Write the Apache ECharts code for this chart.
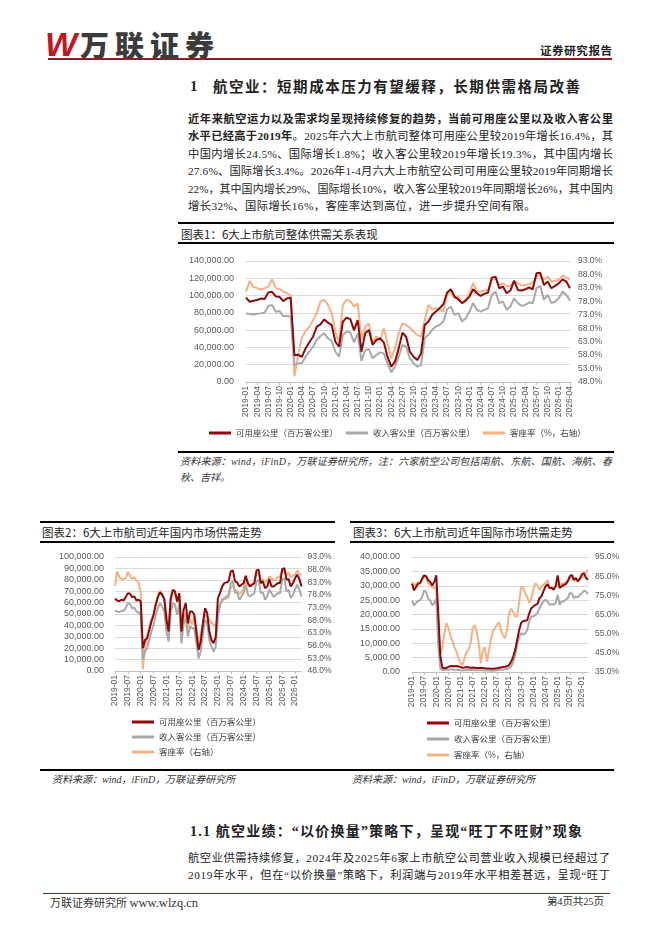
<!DOCTYPE html>
<html>
<head>
<meta charset="utf-8">
<title>航空业供需</title>
<script src="https://cdn.jsdelivr.net/npm/echarts@6/dist/echarts.min.js"></script>
<style>
  body { margin: 0; background: #fff; }
  #page { position: relative; width: 662px; height: 936px; overflow: hidden; background: #fff;
          font-family: "Liberation Serif", "Noto Sans CJK SC", serif; color: #222; }
  .tx { position: absolute; white-space: nowrap; height: 16px; line-height: 16px; }
  .hr { position: absolute; background: #000; }
  .src { font-style: italic; font-size: 10px; color: #333; }
  .cap { font-size: 11.5px; color: #222; font-family: "Noto Sans CJK SC", sans-serif; }
  .chart { position: absolute; }
</style>
</head>
<body>
<div id="page">
  <!-- header -->
  <div class="tx" style="left:45px;top:26px;height:36px;line-height:36px;font-family:'Liberation Sans';font-weight:bold;font-style:italic;font-size:34px;color:#c4161c;letter-spacing:-3px">W</div>
  <div class="tx" style="left:80px;top:26px;height:36px;line-height:36px;font-family:'Noto Sans CJK SC';font-weight:900;font-size:29px;color:#3b3b3b;letter-spacing:6px">万联证券</div>
  <span class="tx fit" data-w="72" style="left:540px;top:42px;font-family:'Noto Sans CJK SC';font-weight:bold;font-size:11.5px">证券研究报告</span>
  <div class="hr" style="left:48px;top:58px;width:564px;height:1.5px;background:#8b1f24"></div>

  <!-- section title -->
  <div class="tx" style="left:190px;top:78px;font-weight:bold;font-size:15px">1</div>
  <span class="tx fit" data-w="367" style="left:213px;top:78px;font-weight:bold;font-size:14.5px;font-family:'Noto Sans CJK SC'">航空业：短期成本压力有望缓释，长期供需格局改善</span>

  <!-- paragraph -->
  <span class="tx fit" data-w="425" style="left:188px;top:111px;font-size:11.3px;font-weight:bold">近年来航空运力以及需求均呈现持续修复的趋势，当前可用座公里以及收入客公里</span>
  <span class="tx fit" data-w="425" style="left:188px;top:128.4px;font-size:11.3px"><b>水平已经高于2019年</b>。2025年六大上市航司整体可用座公里较2019年增长16.4%，其</span>
  <span class="tx fit" data-w="425" style="left:188px;top:145.8px;font-size:11.3px">中国内增长24.5%、国际增长1.8%；收入客公里较2019年增长19.3%，其中国内增长</span>
  <span class="tx fit" data-w="425" style="left:188px;top:163.2px;font-size:11.3px">27.6%、国际增长3.4%。2026年1-4月六大上市航空公司可用座公里较2019年同期增长</span>
  <span class="tx fit" data-w="425" style="left:188px;top:180.6px;font-size:11px">22%，其中国内增长29%、国际增长10%，收入客公里较2019年同期增长26%，其中国内</span>
  <span class="tx" style="left:188px;top:198px;font-size:11.3px;letter-spacing:0.4px">增长32%、国际增长16%，客座率达到高位，进一步提升空间有限。</span>

  <!-- figure 1 frame -->
  <div class="hr" style="left:178px;top:222px;width:436px;height:2px"></div>
  <div class="tx cap" style="left:181px;top:226px">图表1：6大上市航司整体供需关系表现</div>
  <div class="hr" style="left:178px;top:242px;width:436px;height:2px"></div>
  <div id="c1" class="chart" style="left:178px;top:245px;width:436px;height:200px"></div>
  <div class="hr" style="left:178px;top:450.5px;width:436px;height:2.5px"></div>
  <span class="tx fit src" data-w="432" style="left:180px;top:454px">资料来源：wind，iFinD，万联证券研究所，注：六家航空公司包括南航、东航、国航、海航、春</span>
  <div class="tx src" style="left:180px;top:470px">秋、吉祥。</div>

  <!-- figures 2 and 3 frames -->
  <div class="hr" style="left:40px;top:521px;width:295px;height:2px"></div>
  <div class="tx cap" style="left:42px;top:524px">图表2：6大上市航司近年国内市场供需走势</div>
  <div class="hr" style="left:40px;top:541px;width:295px;height:2px"></div>
  <div class="hr" style="left:350px;top:521px;width:264px;height:2px"></div>
  <div class="tx cap" style="left:353px;top:524px">图表3：6大上市航司近年国际市场供需走势</div>
  <div class="hr" style="left:350px;top:541px;width:264px;height:2px"></div>
  <div id="c2" class="chart" style="left:40px;top:545px;width:300px;height:222px"></div>
  <div id="c3" class="chart" style="left:345px;top:545px;width:317px;height:222px"></div>
  <div class="hr" style="left:40px;top:768.5px;width:574px;height:2.5px"></div>
  <div class="tx src" style="left:52px;top:772px">资料来源：wind，iFinD，万联证券研究所</div>
  <div class="tx src" style="left:352px;top:772px">资料来源：wind，iFinD，万联证券研究所</div>

  <!-- section 1.1 -->
  <span class="tx fit" data-w="392" style="left:190px;top:824px;font-weight:bold;font-size:14px">1.1 航空业绩：“以价换量”策略下，呈现“旺丁不旺财”现象</span>
  <span class="tx fit" data-w="422" style="left:188px;top:850px;font-size:11.3px">航空业供需持续修复，2024年及2025年6家上市航空公司营业收入规模已经超过了</span>
  <span class="tx fit" data-w="422" style="left:188px;top:867px;font-size:11.3px">2019年水平，但在“以价换量”策略下，利润端与2019年水平相差甚远，呈现“旺丁</span>

  <!-- footer -->
  <div class="hr" style="left:43px;top:892.5px;width:567px;height:1px;background:#8b1f24"></div>
  <div class="tx" style="left:50px;top:894px;font-size:11px;font-family:'Noto Sans CJK SC';color:#333">万联证券研究所 <span style="font-family:'Liberation Serif';font-size:12.5px">www.wlzq.cn</span></div>
  <span class="tx fit" data-w="57" style="left:547px;top:894px;font-size:10.5px;color:#333">第4页共25页</span>
</div>

<script>
// 月份类目
var years = ['2019', '2020', '2021', '2022', '2023', '2024', '2025', '2026'];
var monthNos = ['01', '02', '03', '04', '05', '06', '07', '08', '09', '10', '11', '12'];
var lastMonth = '2026-04';

var askName = '可用座公里（百万客公里）';
var rpkName = '收入客公里（百万客公里）';
var lfName = '客座率（%，右轴）';
var lfNameDom = '客座率（右轴）';

// 图表1：六大航司整体
var totalAsk = [97700, 92900, 94000, 94800, 96700, 96000, 103700, 104400, 99000, 98600, 93600, 96700,
  97500, 31000, 31500, 29000, 39000, 46000, 52400, 64000, 66700, 72400, 68600, 65900,
  46600, 40800, 69700, 74400, 72800, 60100, 71700, 35000, 56300, 60100, 42800, 48600,
  50500, 45900, 29300, 17700, 23500, 38900, 57000, 52400, 35000, 29300, 25400, 33100,
  66000, 70000, 77700, 81500, 85400, 90000, 103500, 107300, 98800, 95800, 91200, 94200,
  98800, 107300, 102700, 99600, 101900, 103500, 120800, 121900, 108500, 110400, 102700, 105800,
  117300, 106500, 105800, 107300, 109600, 107300, 125800, 126500, 112300, 116200, 108500, 111200,
  114200, 118800, 116200, 108500];
var totalRpk = [79400, 78600, 78200, 79000, 79400, 80500, 87900, 89000, 81300, 82100, 76300, 76300,
  75500, 19600, 21600, 21600, 29300, 35000, 40800, 48600, 53200, 56300, 50500, 47400,
  35000, 29300, 54300, 58200, 57400, 45900, 56300, 24300, 37000, 38200, 27400, 31200,
  34300, 33100, 21600, 11200, 17700, 29300, 42800, 40800, 27400, 21600, 17700, 19600,
  50800, 54600, 60400, 64200, 66200, 70000, 84200, 87300, 77700, 79600, 70000, 73800,
  81500, 91200, 83500, 81500, 83500, 85400, 100800, 104600, 91200, 93100, 83500, 87300,
  96900, 91200, 88100, 89200, 91900, 91200, 108500, 111200, 95000, 100800, 91200, 93100,
  96900, 104600, 100800, 94200];
var totalLf = [81.7, 85.6, 83.3, 82.9, 82.3, 82.9, 83.5, 86.2, 82.9, 82.5, 81.7, 81.0,
  80.1, 50.1, 58.0, 64.5, 67.0, 68.5, 71.0, 73.6, 78.0, 78.6, 76.7, 73.6,
  66.7, 62.4, 76.7, 78.6, 78.0, 76.1, 77.3, 64.0, 68.6, 69.8, 62.4, 64.9,
  63.6, 68.0, 62.4, 56.8, 60.5, 66.1, 69.8, 69.2, 68.2, 66.7, 65.5, 64.9,
  71.1, 76.7, 74.9, 75.5, 75.1, 74.2, 80.4, 81.7, 79.2, 79.8, 77.3, 78.6,
  81.0, 84.8, 81.7, 81.7, 82.0, 82.3, 86.0, 86.6, 84.1, 84.8, 83.5, 83.8,
  85.4, 84.8, 83.8, 84.1, 84.5, 84.8, 87.2, 87.9, 86.0, 87.2, 85.4, 85.7,
  86.0, 87.5, 87.0, 86.2];

// 图表2：国内
var domAsk = [63600, 61900, 61300, 62500, 61900, 64800, 68300, 67700, 64800, 65400, 61900, 62500,
  61000, 20000, 27300, 28700, 36000, 43400, 49300, 58100, 64800, 68900, 66900, 63000,
  44900, 34600, 63900, 71300, 69800, 61000, 68300, 34600, 53700, 59500, 41900, 52200,
  52200, 49300, 33100, 18500, 25800, 41900, 55100, 50700, 34600, 27300, 24300, 30200,
  63900, 68300, 74200, 77100, 77700, 78600, 87400, 88300, 78600, 77700, 74200, 75700,
  77100, 83600, 77100, 74200, 75700, 77100, 88300, 88900, 77100, 78600, 72700, 74200,
  80600, 74200, 74200, 75700, 77100, 77100, 89400, 90300, 80100, 80600, 74200, 77100,
  81500, 84500, 80600, 74200];
var domRpk = [52800, 52200, 51900, 52800, 52800, 55100, 59500, 58900, 55100, 55700, 52200, 51300,
  49300, 10000, 17000, 19900, 27300, 34600, 40500, 49300, 55100, 59500, 56600, 52200,
  34600, 25800, 52200, 59500, 58100, 49300, 58100, 24300, 41900, 46300, 30200, 39000,
  37500, 37500, 24300, 11100, 17000, 31700, 44900, 41900, 27300, 21400, 17000, 21400,
  47800, 58100, 62500, 63900, 65400, 66900, 77100, 78600, 68300, 68900, 62500, 65400,
  68300, 75700, 66900, 65400, 66900, 68300, 78600, 80100, 68300, 68900, 62500, 65400,
  71300, 68300, 64800, 66900, 68300, 68300, 80600, 81500, 69800, 71300, 63900, 66900,
  71300, 75700, 71300, 65400];
var domLf = [81.7, 87.3, 85.0, 84.3, 84.1, 84.6, 87.0, 85.7, 84.3, 85.0, 83.7, 83.0,
  79.0, 48.7, 57.7, 61.7, 65.7, 68.4, 70.4, 74.4, 77.7, 79.7, 78.4, 76.4,
  70.4, 65.7, 76.4, 79.0, 78.4, 75.0, 77.7, 61.7, 69.0, 71.0, 65.0, 68.4,
  66.4, 69.7, 65.0, 59.1, 62.4, 67.0, 70.4, 69.7, 68.4, 67.0, 66.4, 65.7,
  70.4, 74.4, 75.7, 76.4, 76.6, 77.0, 81.0, 81.7, 79.7, 79.7, 78.4, 79.0,
  80.6, 84.3, 81.7, 81.7, 82.4, 82.8, 86.3, 87.0, 83.7, 84.3, 83.3, 83.7,
  85.4, 84.6, 83.7, 84.3, 85.0, 85.4, 87.7, 88.3, 85.7, 87.0, 85.0, 85.7,
  85.9, 87.7, 86.3, 85.9];

// 图表3：国际
var intlAsk = [30700, 28400, 29600, 30700, 30900, 32500, 33600, 33300, 31900, 31300, 30100, 31300,
  33600, 20000, 5500, 1500, 1300, 1400, 1800, 2000, 2100, 2000, 2100, 1900,
  1700, 1500, 1600, 1700, 1600, 1500, 1600, 1500, 1400, 1400, 1500, 1400,
  1300, 1200, 1200, 1100, 1100, 1200, 1300, 1500, 1600, 1700, 1800, 2000,
  2400, 3600, 5300, 7700, 11200, 14700, 17100, 17700, 17800, 18100, 20500, 22200,
  22800, 23400, 23600, 25700, 26300, 28100, 29800, 30500, 29200, 29200, 28600, 29800,
  33600, 29200, 29800, 30300, 30600, 31500, 33300, 33800, 32100, 32700, 31500, 32400,
  34000, 34400, 32700, 32100];
var intlRpk = [24900, 23200, 24000, 24700, 24900, 26100, 28400, 27800, 25500, 24900, 23200, 24000,
  25500, 9000, 1200, 600, 700, 800, 800, 900, 900, 800, 800, 700,
  600, 500, 600, 700, 700, 700, 700, 600, 600, 600, 600, 600,
  500, 500, 500, 450, 450, 550, 600, 700, 800, 850, 950, 1100,
  1300, 1900, 3600, 5900, 9400, 12300, 13500, 13100, 13500, 14700, 17600, 19300,
  19300, 19900, 20500, 22200, 23400, 24500, 25100, 24500, 23400, 23600, 23400, 24000,
  26900, 23400, 24500, 24500, 25100, 25700, 27400, 27400, 25700, 26300, 25900, 26900,
  27400, 28300, 28000, 27100];
var intlLf = [82.0, 80.2, 81.1, 82.0, 81.1, 82.8, 84.9, 84.2, 81.1, 80.7, 79.0, 79.3,
  77.6, 60.0, 44.0, 48.0, 55.0, 60.5, 58.0, 54.0, 51.0, 48.0, 45.5, 42.0,
  39.5, 38.7, 42.5, 45.5, 47.0, 50.0, 58.0, 59.5, 56.0, 50.0, 39.5, 46.0,
  48.0, 40.4, 46.0, 52.0, 56.5, 57.8, 59.5, 61.0, 57.0, 54.0, 52.6, 57.0,
  65.6, 68.0, 66.5, 64.0, 64.0, 71.7, 79.5, 78.7, 76.0, 74.0, 71.0, 73.4,
  78.0, 81.3, 80.4, 77.8, 79.5, 80.4, 81.5, 83.0, 78.7, 79.5, 78.7, 79.5,
  80.4, 80.4, 81.3, 81.0, 82.0, 82.5, 84.0, 84.5, 82.5, 83.5, 82.8, 84.0,
  84.5, 85.5, 87.0, 88.2];

var months = [];
years.forEach(function (y) {
  monthNos.forEach(function (m) {
    var label = y + '-' + m;
    if (label <= lastMonth) months.push(label);
  });
});

var colors = ['#8c0a0a', '#a9a9a9', '#f4b183'];
var labelColor = '#595959';

var fmtLeft = function (v) {
  return v.toLocaleString('en-US', { minimumFractionDigits: 2, maximumFractionDigits: 2 });
};
var fmtRight = function (v) {
  return v.toFixed(1) + '%';
};

var buildOption = function (o) {
  var lineSeries = function (name, data, axis, color, z) {
    return {
      name: name, type: 'line', data: data, yAxisIndex: axis, z: z,
      symbol: 'none', smooth: false,
      lineStyle: { width: 2, color: color },
      itemStyle: { color: color }
    };
  };
  return {
    animation: false,
    grid: Object.assign({ outerBoundsMode: 'none', containLabel: false }, o.grid),
    legend: Object.assign({
      data: o.names,
      icon: 'rect',
      itemWidth: 22,
      itemHeight: 3,
      padding: 0,
      textStyle: { fontSize: 8.5, lineHeight: 12, color: '#404040', fontFamily: 'Noto Sans CJK SC' }
    }, o.legend),
    xAxis: {
      type: 'category',
      data: months,
      boundaryGap: false,
      axisLine: { lineStyle: { color: '#bfbfbf', width: 1 } },
      axisTick: { show: true, interval: o.every, length: 3, lineStyle: { color: '#bfbfbf' } },
      axisLabel: { rotate: 90, interval: o.every, fontSize: 8.5, color: labelColor,
                   fontFamily: 'Liberation Sans', margin: 4 },
      splitLine: { show: false }
    },
    yAxis: [{
      type: 'value', min: 0, max: o.leftMax, interval: o.leftStep,
      axisLine: { show: false }, axisTick: { show: false },
      splitLine: { lineStyle: { color: '#d9d9d9', width: 1 } },
      axisLabel: { formatter: fmtLeft, fontSize: 9, color: labelColor,
                   fontFamily: 'Liberation Sans', margin: o.leftMargin }
    }, {
      type: 'value', position: 'right', min: o.rightMin, max: o.rightMax, interval: o.rightStep,
      axisLine: { show: false }, axisTick: { show: false }, splitLine: { show: false },
      axisLabel: { formatter: fmtRight, fontSize: 8.5, color: labelColor,
                   fontFamily: 'Liberation Sans', margin: o.rightMargin }
    }],
    series: [
      lineSeries(o.names[0], o.ask, 0, colors[0], 4),
      lineSeries(o.names[1], o.rpk, 0, colors[1], 3),
      lineSeries(o.names[2], o.lf, 1, colors[2], 2)
    ]
  };
};

var chart1 = echarts.init(document.getElementById('c1'));
chart1.setOption(buildOption({
  grid: { left: 68, top: 16, width: 324, height: 121 },
  legend: { left: 31, top: 182, itemGap: 8, orient: 'horizontal' },
  names: [askName, rpkName, lfName],
  ask: totalAsk, rpk: totalRpk, lf: totalLf,
  every: 2,
  leftMax: 140000, leftStep: 20000, leftMargin: 12,
  rightMin: 48, rightMax: 93, rightStep: 5, rightMargin: 8
}));

var chart2 = echarts.init(document.getElementById('c2'));
chart2.setOption(buildOption({
  grid: { left: 75, top: 12, width: 186.5, height: 114 },
  legend: { left: 92, top: 171, itemGap: 3, orient: 'vertical' },
  names: [askName, rpkName, lfNameDom],
  ask: domAsk, rpk: domRpk, lf: domLf,
  every: 5,
  leftMax: 100000, leftStep: 10000, leftMargin: 11,
  rightMin: 48, rightMax: 93, rightStep: 5, rightMargin: 6
}));

var chart3 = echarts.init(document.getElementById('c3'));
chart3.setOption(buildOption({
  grid: { left: 67, top: 12, width: 176, height: 115 },
  legend: { left: 82, top: 172, itemGap: 4, orient: 'vertical' },
  names: [askName, rpkName, lfName],
  ask: intlAsk, rpk: intlRpk, lf: intlLf,
  every: 5,
  leftMax: 40000, leftStep: 5000, leftMargin: 12,
  rightMin: 35, rightMax: 95, rightStep: 10, rightMargin: 7
}));

// 文字两端对齐：按目标宽度调字距
var fitRows = function () {
  document.querySelectorAll('.fit').forEach(function (el) {
    el.style.letterSpacing = '0px';
    var w = +el.dataset.w;
    var nat = el.getBoundingClientRect().width;
    var n = el.textContent.length;
    if (n > 1) el.style.letterSpacing = ((w - nat) / (n - 1)) + 'px';
  });
};
fitRows();
if (document.fonts && document.fonts.ready) document.fonts.ready.then(fitRows);
</script>
</body>
</html>
